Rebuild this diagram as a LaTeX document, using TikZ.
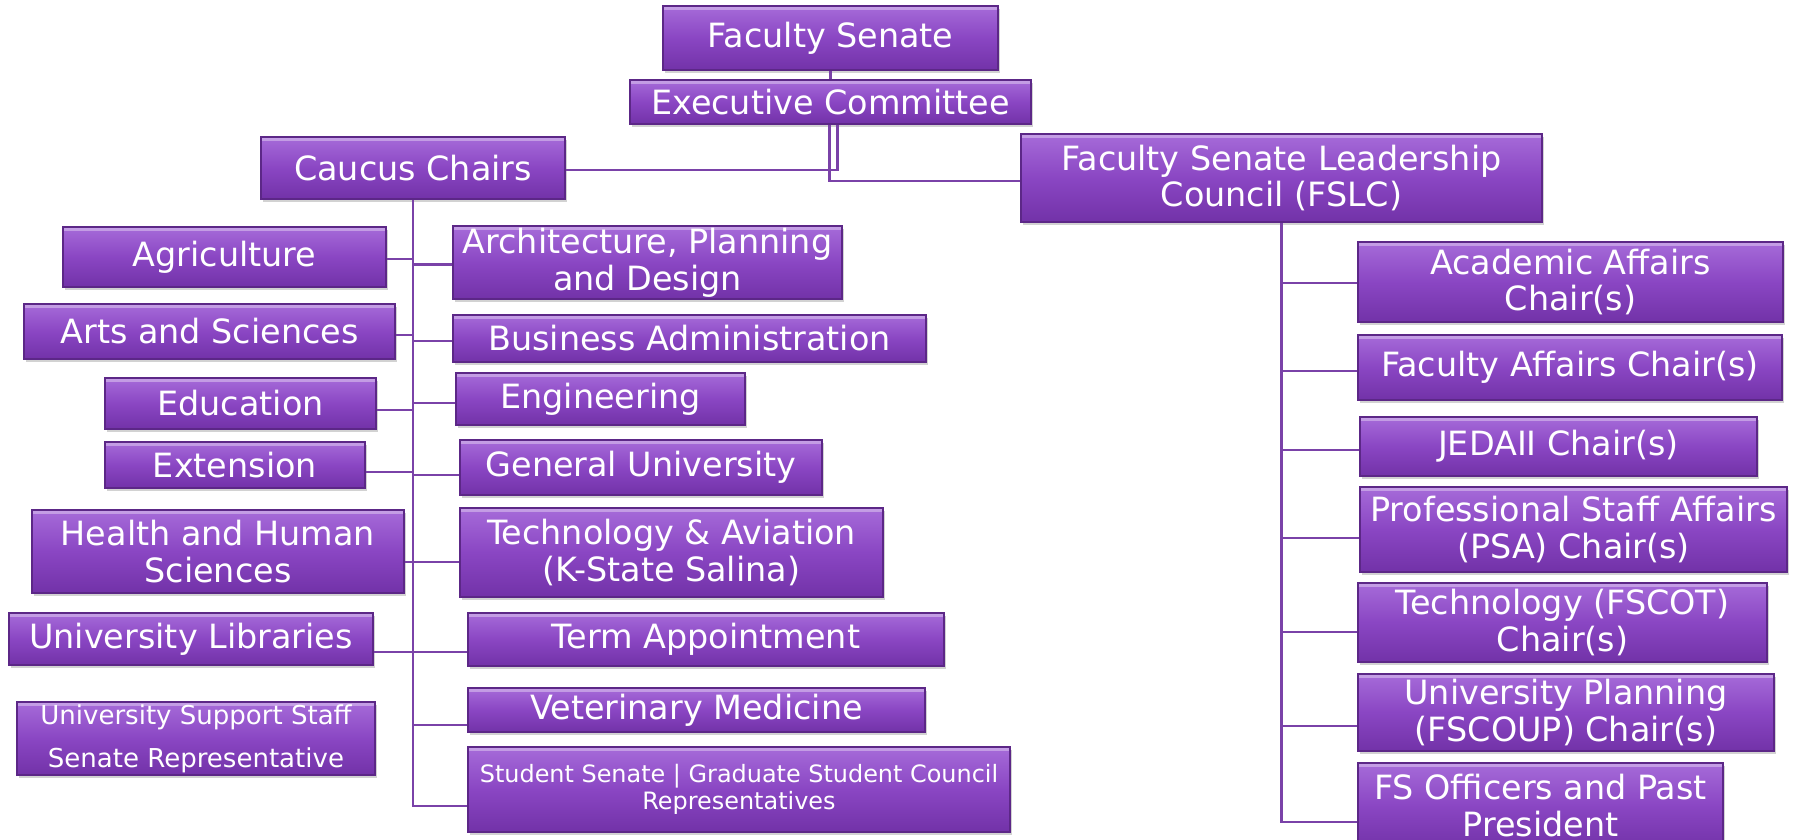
\documentclass[tikz,border=0pt]{standalone}
\usepackage{fontspec}
\setmainfont{DejaVu Sans}
\usepackage{tikz}
\usetikzlibrary{positioning,shadows}
\definecolor{fstop}{HTML}{A66BD9}
\definecolor{fsmid}{HTML}{8A46C3}
\definecolor{fsbot}{HTML}{7232A8}
\definecolor{fsedge}{HTML}{5C2787}
\definecolor{fsline}{HTML}{7A42A8}

\begin{document}
\begin{tikzpicture}[x=0.01cm,y=-0.01cm,
  box/.style 2 args={rectangle,draw=fsedge,line width=0.4pt,
    top color=fstop,bottom color=fsbot,middle color=fsmid,
    text=white,align=center,inner sep=0pt,
    minimum width=#1cm,minimum height=#2cm,
    font=\fontsize{9.5}{10.5}\selectfont,
    drop shadow={shadow xshift=0.02cm,shadow yshift=-0.03cm,opacity=0.35},
    path picture={\draw[white,opacity=0.35,line width=0.03cm]
      ([yshift=-0.025cm]path picture bounding box.north west) --
      ([yshift=-0.025cm]path picture bounding box.north east);}},
  small/.style={font=\fontsize{7.4}{12.2}\selectfont},
  tiny/.style={font=\fontsize{6.8}{7.7}\selectfont},
  link/.style={color=fsline,line width=0.6pt},
  hv/.style={to path={-| (\tikztotarget)}},
  vh/.style={to path={|- (\tikztotarget)}}]
\fill[white] (0,0) rectangle (1796,840);
\useasboundingbox (0,0) rectangle (1796,840);

% top
\node[box={3.35}{0.64}] (fs) at (830.5,38) {Faculty Senate};
\node[box={4.01}{0.44}] (ec) at (830.5,102) {Executive Committee};
\node[box={3.04}{0.62}] (cc) at (413,168) {Caucus Chairs};
\node[box={5.21}{0.88}] (fslc) at (1281.5,178) {Faculty Senate Leadership\\Council (FSLC)};

% caucus chairs, left side
\node[box={3.23}{0.60}] (agri) at (224.5,257) {Agriculture};
\node[box={3.71}{0.55}] (arts) at (209.5,331.5) {Arts and Sciences};
\node[box={2.71}{0.51}] (edu) at (240.5,403.5) {Education};
\node[box={2.60}{0.46}] (ext) at (235,465) {Extension};
\node[box={3.72}{0.83}] (hhs) at (218,551.5) {Health and Human\\Sciences};
\node[box={3.64}{0.52}] (ulib) at (191,639) {University Libraries};
\node[box={3.58}{0.73},small] (uss) at (196,738.5) {University Support Staff\\Senate Representative};

% caucus chairs, right side
\node[box={3.89}{0.73}] (arch) at (647.5,262.5) {Architecture, Planning\\and Design};
\node[box={4.73}{0.47}] (bus) at (689.5,338.5) {Business Administration};
\node[box={2.89}{0.52}] (eng) at (600.5,399) {Engineering};
\node[box={3.62}{0.55}] (genu) at (641,467.5) {General University};
\node[box={4.23}{0.89}] (tech) at (671.5,552.5) {Technology \& Aviation\\(K-State Salina)};
\node[box={4.76}{0.53}] (term) at (706,639.5) {Term Appointment};
\node[box={4.57}{0.44}] (vet) at (696.5,710) {Veterinary Medicine};
\node[box={5.42}{0.85},tiny] (stud) at (739,789.5) {Student Senate | Graduate Student Council\\Representatives};

% leadership council
\node[box={4.25}{0.80}] (aca) at (1570.5,282) {Academic Affairs\\Chair(s)};
\node[box={4.24}{0.65}] (fac) at (1570,367.5) {Faculty Affairs Chair(s)};
\node[box={3.97}{0.59}] (jed) at (1558.5,446.5) {JEDAII Chair(s)};
\node[box={4.27}{0.85}] (psa) at (1573.5,529.5) {Professional Staff Affairs\\(PSA) Chair(s)};
\node[box={4.09}{0.79}] (fscot) at (1562.5,622.5) {Technology (FSCOT)\\Chair(s)};
\node[box={4.16}{0.77}] (plan) at (1566,712.5) {University Planning\\(FSCOUP) Chair(s)};
\node[box={3.65}{0.86}] (off) at (1540.5,806) {FS Officers and Past\\President};

\path[link]
(fs.south) edge (ec.north)
([xshift=0.07cm]ec.south) edge[vh] ([yshift=-0.02cm]cc.east)
([xshift=-0.01cm]ec.south) edge[vh] ([yshift=-0.03cm]fslc.west)
([yshift=-0.02cm]agri.east) edge[hv] (cc.south)
([yshift=-0.035cm]arts.east) edge[hv] (cc.south)
([yshift=-0.065cm]edu.east) edge[hv] (cc.south)
([yshift=-0.07cm]ext.east) edge[hv] (cc.south)
([yshift=-0.105cm]hhs.east) edge[hv] (cc.south)
([yshift=-0.13cm]ulib.east) edge[hv] (cc.south)
([yshift=-0.02cm]arch.west) edge[hv] (cc.south)
([yshift=-0.025cm]bus.west) edge[hv] (cc.south)
([yshift=-0.04cm]eng.west) edge[hv] (cc.south)
([yshift=-0.075cm]genu.west) edge[hv] (cc.south)
([yshift=-0.095cm]tech.west) edge[hv] (cc.south)
([yshift=-0.125cm]term.west) edge[hv] (cc.south)
([yshift=-0.15cm]vet.west) edge[hv] (cc.south)
([yshift=-0.165cm]stud.west) edge[hv] (cc.south)
([yshift=-0.01cm]aca.west) edge[hv] (fslc.south)
([yshift=-0.035cm]fac.west) edge[hv] (fslc.south)
([yshift=-0.035cm]jed.west) edge[hv] (fslc.south)
([yshift=-0.085cm]psa.west) edge[hv] (fslc.south)
([yshift=-0.095cm]fscot.west) edge[hv] (fslc.south)
([yshift=-0.135cm]plan.west) edge[hv] (fslc.south)
([yshift=-0.16cm]off.west) edge[hv] (fslc.south)
;
\end{tikzpicture}
\end{document}
